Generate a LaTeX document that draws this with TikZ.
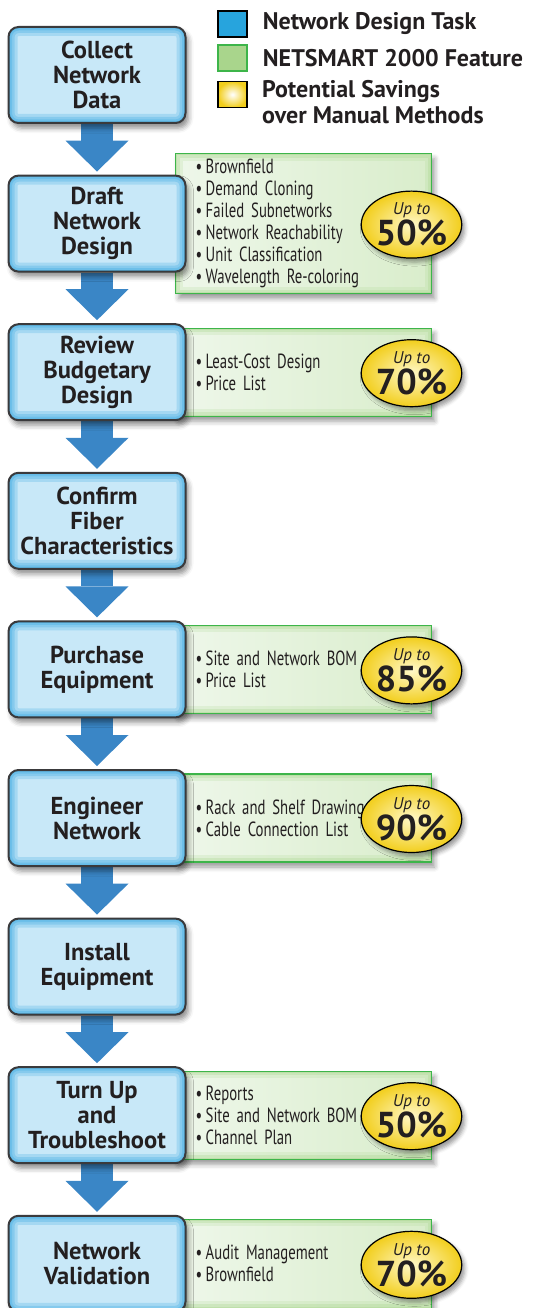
\documentclass[tikz,border=0pt]{standalone}
\usepackage{fontspec}
\setmainfont{PT Sans}
\newfontfamily\narrowfont[FakeStretch=0.72,WordSpace=0.4]{PT Sans}
\usetikzlibrary{arrows.meta,shadows.blur,shapes.geometric,backgrounds,positioning}

\definecolor{taskin}{HTML}{C8E8F8}
\definecolor{taskedge}{HTML}{3FACE3}
\definecolor{taskline}{HTML}{3A3A3C}
\definecolor{featin}{HTML}{EEF7EA}
\definecolor{featmid}{HTML}{D9EDCB}
\definecolor{featedge}{HTML}{A9D68E}
\definecolor{featline}{HTML}{3DB54A}
\definecolor{flowblue}{HTML}{3A86C6}
\definecolor{savelight}{HTML}{FFF8C8}
\definecolor{savegold}{HTML}{F2CE1C}
\definecolor{keyblue}{HTML}{27A4DD}
\definecolor{keygreen}{HTML}{A9D58C}
\definecolor{inktext}{HTML}{231F20}

\begin{document}
\begin{tikzpicture}[x=1pt,y=-1pt,
  task/.style={rectangle,rounded corners=10pt,draw=taskline,line width=2pt,fill=taskin,
    minimum width=177pt,minimum height=96pt,align=center,text=inktext,
    font=\bfseries\fontsize{24.5}{25}\selectfont,
    blur shadow={shadow xshift=3pt,shadow yshift=-5pt,shadow blur radius=5pt,shadow opacity=45},
    path picture={\foreach \w/\o in {18/0.25,12/0.3,7/0.35,3/0.45}{
      \draw[line width=\w pt,draw=taskedge,draw opacity=\o]
        (path picture bounding box.south west) rectangle (path picture bounding box.north east);}}},
  feat/.style={rectangle,draw=featline,line width=1.2pt,left color=featin,right color=featmid,
    anchor=west,minimum width=256pt,inner xsep=20pt,text width=216pt,align=left,text=inktext,
    font=\narrowfont\fontsize{20.5}{22}\selectfont,
    blur shadow={shadow xshift=3pt,shadow yshift=-5pt,shadow blur radius=5pt,shadow opacity=40},
    path picture={\foreach \w/\o in {14/0.2,8/0.3,3/0.4}{
      \draw[line width=\w pt,draw=featedge,draw opacity=\o]
        (path picture bounding box.south west) rectangle (path picture bounding box.north east);}}},
  saving/.style={ellipse,draw=black,line width=1.2pt,inner color=savelight,outer color=savegold,
    minimum width=87pt,minimum height=67pt,inner sep=0pt,align=center,text=inktext,
    font=\fontsize{36}{31}\selectfont,
    blur shadow={shadow xshift=3pt,shadow yshift=-4pt,shadow blur radius=4pt,shadow opacity=40}},
  flow/.style={line width=32pt,draw=flowblue,shorten >=3pt,
    -{Triangle[length=31pt,width=63pt,line width=0pt]}},
  keybox/.style={rectangle,draw,line width=1.5pt,minimum width=29pt,minimum height=26pt},
  keytext/.style={inner sep=0pt,align=left,text=inktext,font=\bfseries\fontsize{24}{26}\selectfont}]
\useasboundingbox (0,0) rectangle (534,1308);

% legend
\node[keybox,fill=keyblue] (keytask) at (232.5,24) {};
\node[keybox,draw=featline,fill=keygreen] (keyfeat) at (232.5,58) {};
\node[keybox,inner color=white,outer color=savegold] (keysave) at (232.5,94.5) {};
\node[keytext,right=15pt of keytask] (keytasktext) {Network Design Task};
\node[keytext,right=15pt of keyfeat] (keyfeattext) {NETSMART 2000 Feature};
\node[keytext,anchor=north west] (keysavetext) at (262,80) {Potential Savings\\over Manual Methods};

% features
\foreach \i/\h/\p/\l in {%
  2/140/50/{•\,Brownfield\\•\,Demand Cloning\\•\,Failed Subnetworks\\•\,Network Reachability\\•\,Unit Classification\\•\,Wavelength Re-coloring},
  3/88/70/{•\,Least-Cost Design\\•\,Price List},
  5/88/85/{•\,Site and Network BOM\\•\,Price List},
  6/88/90/{•\,Rack and Shelf Drawing\\•\,Cable Connection List},
  8/88/50/{•\,Reports\\•\,Site and Network BOM\\•\,Channel Plan},
  9/89/70/{•\,Audit Management\\•\,Brownfield}} {
  \node[feat,minimum height=\h pt] (f\i) at (175,{75+148.6*(\i-1)}) {\l};
  \node[saving] (s\i) at (411.5,{76+148.6*(\i-1)})
    {{\itshape\fontsize{17}{17}\selectfont Up to}\\{\bfseries \p\%}};
}

% tasks
\foreach \i/\t in {%
  1/{Collect\\Network\\Data},
  2/{Draft\\Network\\Design},
  3/{Review\\Budgetary\\Design},
  4/{Confirm\\Fiber\\Characteristics},
  5/{Purchase\\Equipment},
  6/{Engineer\\Network},
  7/{Install\\Equipment},
  8/{Turn Up\\and\\Troubleshoot},
  9/{Network\\Validation}} {
  \node[task] (t\i) at (97,{75+148.6*(\i-1)}) {\t};
}

\begin{scope}[on background layer]
\foreach \a/\b in {t1/t2,t2/t3,t3/t4,t4/t5,t5/t6,t6/t7,t7/t8,t8/t9}
  \draw[flow] (\a) -- (\b);
\end{scope}
\end{tikzpicture}
\end{document}
